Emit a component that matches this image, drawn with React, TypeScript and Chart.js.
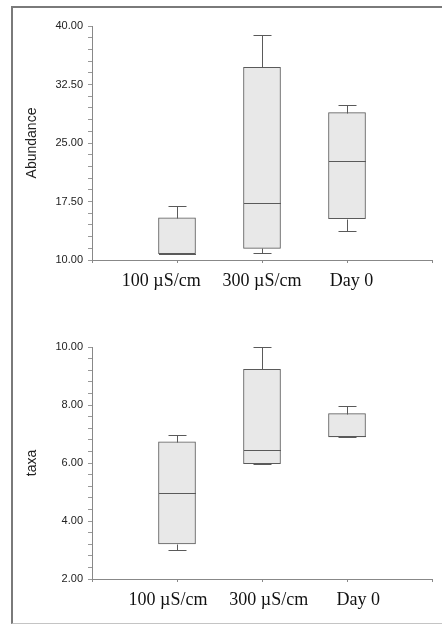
import React, { useEffect, useRef } from "react";
import { Chart, registerables } from "chart.js";

Chart.register(...registerables);

// ---- data ----
const categories = ["100 µS/cm", "300 µS/cm", "Day 0"];

const abundanceMin = [10.8, 10.9, 13.7];
const abundanceQ1 = [10.8, 11.5, 15.3];
const abundanceMedian = [10.8, 17.3, 22.7];
const abundanceQ3 = [15.4, 34.7, 28.9];
const abundanceMax = [16.9, 38.9, 29.9];
const abundanceMajorTicks = [10, 17.5, 25, 32.5, 40];

const taxaMin = [3.0, 5.97, 6.9];
const taxaQ1 = [3.21, 5.98, 6.9];
const taxaMedian = [4.96, 6.44, 6.92];
const taxaQ3 = [6.73, 9.23, 7.7];
const taxaMax = [6.98, 10.0, 7.96];
const taxaMajorTicks = [2, 4, 6, 8, 10];

type Stats = {
  min: number[];
  q1: number[];
  median: number[];
  q3: number[];
  max: number[];
};

const LINE = "#5a5a5a";

// shift a centred label sideways by padding it with spaces (negative = left)
function shiftLabel(text: string, spaces: number) {
  const pad = " ".repeat(Math.abs(spaces));
  return spaces < 0 ? text + pad : pad + text;
}

function makeWhiskerPlugin(s: Stats) {
  return {
    id: "whiskers",
    afterDatasetsDraw(chart: any) {
      const { ctx } = chart;
      const y = chart.scales.y;
      const meta = chart.getDatasetMeta(0);
      ctx.save();
      ctx.strokeStyle = LINE;
      ctx.lineWidth = 1;
      const line = (x1: number, y1: number, x2: number, y2: number) => {
        ctx.beginPath();
        ctx.moveTo(x1, y1);
        ctx.lineTo(x2, y2);
        ctx.stroke();
      };
      s.min.forEach((mn, i) => {
        const el = meta.data[i + 1];
        if (!el) return;
        const x = Math.round(el.x) + 0.5;
        const half = el.width / 2;
        const cap = 9;
        const py = (v: number) => Math.round(y.getPixelForValue(v)) + 0.5;
        const yMin = py(mn);
        const yQ1 = py(s.q1[i]);
        const yMed = py(s.median[i]);
        const yQ3 = py(s.q3[i]);
        const yMax = py(s.max[i]);
        line(x, yQ3, x, yMax);
        line(x - cap, yMax, x + cap, yMax);
        line(x, yQ1, x, yMin);
        line(x - cap, yMin, x + cap, yMin);
        line(x - half, yMed, x + half, yMed);
      });
      ctx.restore();
    },
  };
}

type BoxProps = {
  stats: Stats;
  yMin: number;
  yMax: number;
  step: number;
  majors: number[];
  title: string;
  top: number;
  height: number;
  padTop: number;
  xHeight: number;
  labelShift: number[];
};

function BoxChart(p: BoxProps) {
  const ref = useRef<HTMLCanvasElement>(null);
  useEffect(() => {
    if (!ref.current) return;
    const labels = ["", ...categories.map((c, i) => shiftLabel(c, p.labelShift[i])), ""];
    const boxes = [null, ...p.stats.q1.map((q, i) => [q, p.stats.q3[i]]), null];
    const chart = new Chart(ref.current, {
      type: "bar",
      data: {
        labels,
        datasets: [
          {
            data: boxes as any,
            backgroundColor: "#e8e8e8",
            borderColor: LINE,
            borderWidth: 1,
            borderSkipped: false,
            barThickness: 37,
          },
        ],
      },
      options: {
        responsive: false,
        animation: false,
        devicePixelRatio: 1,
        layout: { padding: { top: p.padTop, right: 10, left: 0, bottom: 0 } },
        plugins: {
          legend: { display: false },
          tooltip: { enabled: false },
        },
        scales: {
          x: {
            type: "category",
            offset: false,
            afterFit: (scale: any) => {
              scale.height = p.xHeight;
            },
            grid: {
              offset: false,
              drawOnChartArea: false,
              drawTicks: true,
              tickLength: 3,
              color: "#888",
            },
            border: { color: "#888", width: 1 },
            ticks: {
              autoSkip: false,
              maxRotation: 0,
              minRotation: 0,
              padding: 7,
              color: "#111",
              font: { family: "'Liberation Serif', 'Times New Roman', serif", size: 18 },
            },
          },
          y: {
            type: "linear",
            min: p.yMin,
            max: p.yMax,
            afterFit: (scale: any) => {
              scale.width = 80;
            },
            grid: {
              drawOnChartArea: false,
              drawTicks: true,
              tickLength: 4,
              color: "#999",
            },
            border: { color: "#888", width: 1 },
            title: {
              display: true,
              text: p.title,
              color: "#222",
              font: { family: "'Liberation Sans', Arial, sans-serif", size: 14 },
              padding: { top: 12, bottom: 0 },
            },
            ticks: {
              stepSize: p.step,
              autoSkip: false,
              padding: 5,
              color: "#222",
              font: { family: "'Liberation Sans', Arial, sans-serif", size: 11 },
              callback: (v: any) => {
                const n = Number(v);
                return p.majors.some((m) => Math.abs(m - n) < 1e-6) ? n.toFixed(2) : "";
              },
            },
          },
        },
      },
      plugins: [makeWhiskerPlugin(p.stats)],
    });
    return () => chart.destroy();
  }, []);
  return (
    <canvas
      ref={ref}
      width={430}
      height={p.height}
      style={{ position: "absolute", left: 12, top: p.top, width: 430, height: p.height }}
    />
  );
}

export default function App() {
  return (
    <div
      style={{
        position: "fixed",
        left: 0,
        top: 0,
        width: 442,
        height: 627,
        background: "#fff",
        overflow: "hidden",
      }}
    >
      <div
        style={{
          position: "absolute",
          left: 11,
          top: 6,
          width: 440,
          height: 618,
          borderLeft: "2px solid #7a7a7a",
          borderTop: "2px solid #7a7a7a",
          borderBottom: "1px solid #c4c4c4",
          boxSizing: "border-box",
        }}
      />
      <BoxChart
        stats={{
          min: abundanceMin,
          q1: abundanceQ1,
          median: abundanceMedian,
          q3: abundanceQ3,
          max: abundanceMax,
        }}
        yMin={10}
        yMax={40}
        step={1.5}
        majors={abundanceMajorTicks}
        title="Abundance"
        top={8}
        height={300}
        padTop={18}
        xHeight={48}
        labelShift={[-7, 0, 2]}
      />
      <BoxChart
        stats={{
          min: taxaMin,
          q1: taxaQ1,
          median: taxaMedian,
          q3: taxaQ3,
          max: taxaMax,
        }}
        yMin={2}
        yMax={10}
        step={0.4}
        majors={taxaMajorTicks}
        title="taxa"
        top={312}
        height={310}
        padTop={35}
        xHeight={43}
        labelShift={[-4, 3, 5]}
      />
    </div>
  );
}
